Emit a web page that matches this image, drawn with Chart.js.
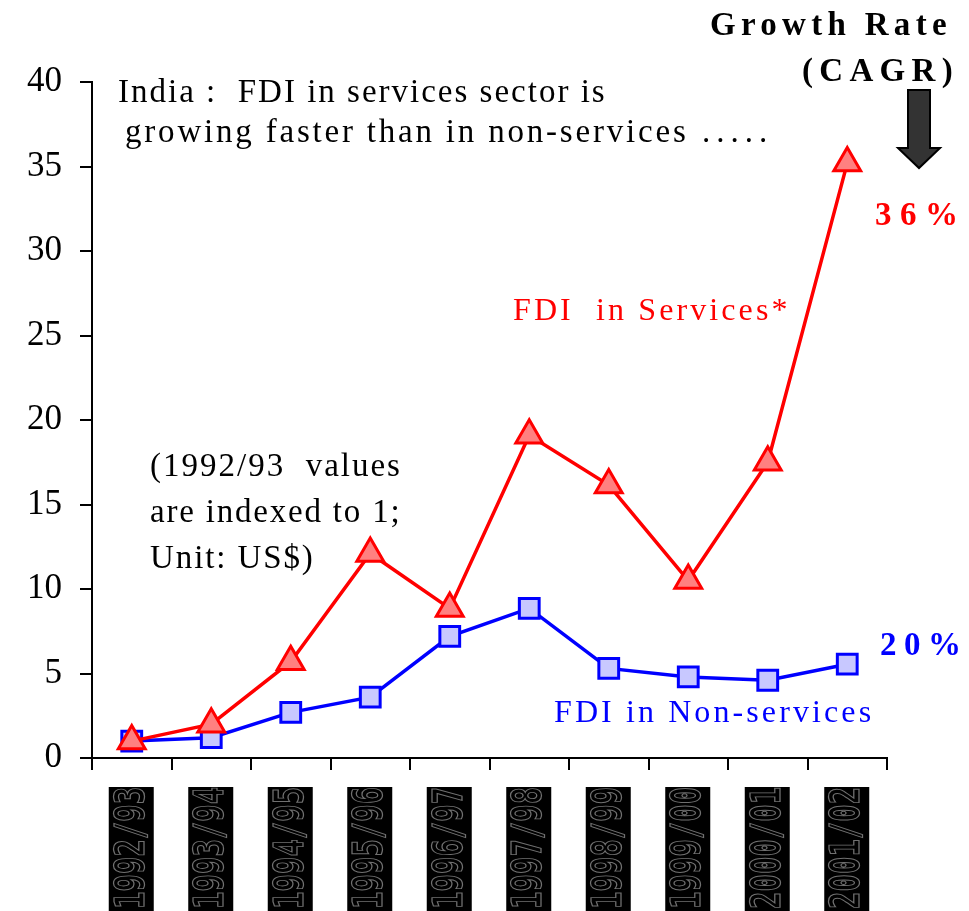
<!DOCTYPE html>
<html>
<head>
<meta charset="utf-8">
<script src="https://cdn.jsdelivr.net/npm/chart.js@4.4.1/dist/chart.umd.min.js"></script>
<style>
  body { margin: 0; background: #fff; }
  canvas { display: block; }
</style>
</head>
<body>
<canvas id="fdiChart" width="969" height="911"></canvas>
<script>
// Data (1992/93 = 1)
const years = ["1992/93", "1993/94", "1994/95", "1995/96", "1996/97",
  "1997/98", "1998/99", "1999/00", "2000/01", "2001/02"];
const services = [1, 2.0, 5.7, 12.1, 8.85, 19.1, 16.15, 10.5, 17.5, 35.2];
const nonServices = [1, 1.2, 2.7, 3.6, 7.2, 8.85, 5.3, 4.8, 4.6, 5.55];
const yTicks = [0, 5, 10, 15, 20, 25, 30, 35, 40];

const serif = "'Liberation Serif', 'Times New Roman', serif";

// Texto solto desenhado por cima do gráfico
const notes = [
  { text: "India :  FDI in services sector is", x: 118, y: 102, size: 33, color: "#000", spacing: 2.0 },
  { text: "growing faster than in non-services", x: 125, y: 142, size: 33, color: "#000", spacing: 2.8 },
  { text: ".....", x: 702, y: 142, size: 33, color: "#000", spacing: 6 },
  { text: "(1992/93  values", x: 150, y: 476, size: 33, color: "#000", spacing: 2.0 },
  { text: "are indexed to 1;", x: 150, y: 522, size: 33, color: "#000", spacing: 1.8 },
  { text: "Unit: US$)", x: 150, y: 568, size: 33, color: "#000", spacing: 1.9 },
  { text: "FDI  in Services*", x: 513, y: 320, size: 32, color: "#ff0000", spacing: 3.1 },
  { text: "FDI in Non-services", x: 554, y: 722, size: 32, color: "#0000ff", spacing: 3.1 },
  { text: "Growth Rate", x: 710, y: 35, size: 33, color: "#000", spacing: 5.3 },
  { text: "(CAGR)", x: 802, y: 81, size: 33, color: "#000", spacing: 6.3 },
  { text: "36%", x: 875, y: 225, size: 33, color: "#ff0000", spacing: 8.5 },
  { text: "20%", x: 880, y: 655, size: 33, color: "#0000ff", spacing: 7.5 },
];
const boldNotes = ["Growth Rate", "(CAGR)", "36%", "20%"];

const overlay = {
  id: "overlay",
  afterDraw(chart) {
    const ctx = chart.ctx;
    const xScale = chart.scales.x;

    // rótulos do eixo x: caixas pretas com texto rodado
    years.forEach((label, i) => {
      const cx = xScale.getPixelForValue(i);
      ctx.save();
      ctx.fillStyle = "#000";
      ctx.fillRect(cx - 23, 787, 45, 124);
      ctx.beginPath();
      ctx.rect(cx - 23, 787, 45, 124);
      ctx.clip();
      ctx.translate(cx, 909);
      ctx.rotate(-Math.PI / 2);
      ctx.scale(1, 1.4);
      ctx.font = "bold 29px 'DejaVu Sans Mono', monospace";
      ctx.textAlign = "left";
      ctx.textBaseline = "middle";
      ctx.strokeStyle = "#707070";
      ctx.lineWidth = 0.9;
      ctx.strokeText(label, 0, 1);
      ctx.restore();
    });

    // notas
    notes.forEach((n) => {
      ctx.save();
      const bold = boldNotes.includes(n.text) ? "bold " : "";
      ctx.font = bold + n.size + "px " + serif;
      ctx.letterSpacing = n.spacing + "px";
      ctx.fillStyle = n.color;
      ctx.textAlign = "left";
      ctx.textBaseline = "alphabetic";
      ctx.fillText(n.text, n.x, n.y);
      ctx.restore();
    });

    // seta para baixo
    ctx.save();
    ctx.beginPath();
    ctx.moveTo(908, 90);
    ctx.lineTo(930, 90);
    ctx.lineTo(930, 148);
    ctx.lineTo(940, 148);
    ctx.lineTo(919, 168);
    ctx.lineTo(898, 148);
    ctx.lineTo(908, 148);
    ctx.closePath();
    ctx.fillStyle = "#333333";
    ctx.fill();
    ctx.lineWidth = 2;
    ctx.strokeStyle = "#000";
    ctx.stroke();
    ctx.restore();
  },
};

const ctx = document.getElementById("fdiChart").getContext("2d");
new Chart(ctx, {
  type: "line",
  data: {
    labels: years,
    datasets: [
      {
        label: "FDI in Services*",
        data: services,
        borderColor: "#ff0000",
        borderWidth: 3.5,
        pointStyle: "triangle",
        pointRadius: 15.5,
        pointBorderWidth: 3,
        pointBackgroundColor: "#ff8080",
        pointBorderColor: "#ff0000",
        tension: 0,
      },
      {
        label: "FDI in Non-services",
        data: nonServices,
        borderColor: "#0000ff",
        borderWidth: 3.5,
        pointStyle: "rect",
        pointRadius: 14,
        pointBorderWidth: 3,
        pointBackgroundColor: "#c8c8ff",
        pointBorderColor: "#0000ff",
        tension: 0,
      },
    ],
  },
  options: {
    responsive: false,
    animation: false,
    layout: { padding: { left: 0, top: 82, right: 82, bottom: 0 } },
    plugins: {
      legend: { display: false },
      tooltip: { enabled: false },
    },
    scales: {
      x: {
        offset: true,
        grid: {
          offset: true,
          drawOnChartArea: false,
          tickLength: 12,
          color: "#000",
          lineWidth: 2,
        },
        border: { display: true, color: "#000", width: 2 },
        ticks: { display: false },
        afterFit: (scale) => { scale.height = 153; },
      },
      y: {
        min: 0,
        max: 40,
        afterBuildTicks: (scale) => {
          scale.ticks = yTicks.map((v) => ({ value: v }));
        },
        grid: {
          drawOnChartArea: false,
          tickLength: 12,
          color: "#000",
          lineWidth: 2,
        },
        border: { display: true, color: "#000", width: 2 },
        ticks: {
          color: "#000",
          padding: 18,
          font: { family: serif, size: 35 },
        },
        afterFit: (scale) => { scale.width = 92; },
      },
    },
  },
  plugins: [overlay],
});
</script>
</body>
</html>
